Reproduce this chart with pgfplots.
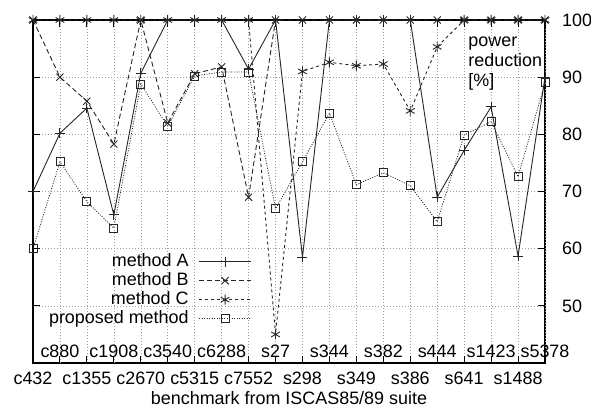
\documentclass[border=0pt]{standalone}
\usepackage{fontspec}
\setmainfont{Liberation Sans}
\usepackage{pgfplots}
\pgfplotsset{compat=1.18}
\pgfplotstableread{
x A B C P
0 70.0 100 100 60.0
1 80.2 90.0 100 75.2
2 84.6 85.8 100 68.2
3 65.9 78.3 100 63.6
4 90.7 100 100 88.8
5 100 82.0 100 81.4
6 100 90.6 100 90.2
7 100 91.8 100 90.9
8 91.4 69.0 100 90.9
9 100 100 45.0 67.0
10 58.5 100 91.0 75.2
11 100 100 92.6 83.7
12 100 100 92.0 71.2
13 100 100 92.3 73.3
14 100 100 84.1 71.0
15 69.0 100 95.3 64.7
16 77.2 100 100 79.9
17 84.8 100 100 82.2
18 58.7 100 100 72.6
19 90.0 100 100 89.0
}\data
\begin{document}
\fontsize{18}{20}\selectfont
\begin{tikzpicture}
\begin{axis}[
  at={(0,0)}, anchor=south west,
  scale only axis, width=512bp, height=343bp,
  xmin=0, xmax=19, ymin=40, ymax=100,
  axis line style={line width=1.2bp},
  /pgf/number format/assume math mode=true,
  xtick={0,2,...,18},
  xticklabels={c432,c1355,c2670,c5315,c7552,s298,s349,s386,s641,s1488},
  xticklabel style={yshift=-3bp},
  extra x ticks={1,3,...,19},
  extra x tick labels={c880,c1908,c3540,c6288,s27,s344,s382,s444,s1423,s5378},
  extra x tick style={xmajorgrids=true, tick label style={anchor=south, yshift=2bp}},
  ytick={50,60,...,100},
  ytick pos=both, yticklabel pos=right,
  yticklabel style={anchor=west, xshift=11bp},
  xtick pos=both,
  tick align=inside,
  major tick length=7bp,
  tick style={black, line width=1bp},
  grid=major,
  grid style={gray!75, line width=0.5bp, dash pattern=on 1bp off 2bp},
  xlabel={benchmark from ISCAS85/89 suite},
  xlabel style={yshift=6bp},
  legend plot pos=right,
  legend cell align=right,
  legend style={at={(axis description cs:0.433,0.098)}, anchor=south east,
    draw=none, fill=none, row sep=2bp, column sep=10bp,
    nodes={inner sep=0pt, text height=13bp, text depth=4bp}},
  legend image code/.code={\draw[mark repeat=2,mark phase=2,#1] plot coordinates {(0bp,0bp) (26bp,0bp) (52bp,0bp)};},
]
\addplot[black!85, line width=0.9bp, mark=+, mark size=5bp, mark options={solid}] table[x=x,y=A] {\data};
\addlegendentry{method A}
\addplot[black!85, line width=0.9bp, dash pattern=on 5bp off 3bp, mark=x, mark size=5bp, mark options={solid}] table[x=x,y=B] {\data};
\addlegendentry{method B}
\addplot[black!85, line width=0.9bp, dash pattern=on 3bp off 3bp, mark=asterisk, mark size=5bp, mark options={solid}] table[x=x,y=C] {\data};
\addlegendentry{method C}
\addplot[black!85, line width=0.8bp, dash pattern=on 1bp off 1.5bp, mark=square, mark size=4bp, mark options={solid}] table[x=x,y=P] {\data};
\addlegendentry{proposed method}
\node[anchor=north west, align=left, inner sep=0pt, font=\fontsize{18}{20}\selectfont] at (axis description cs:0.85,0.95) {power\\reduction\\{}[\%]};
\end{axis}
\pgfresetboundingbox
\path[use as bounding box] (-33bp,-44bp) rectangle (558bp,363bp);
\end{tikzpicture}
\end{document}
